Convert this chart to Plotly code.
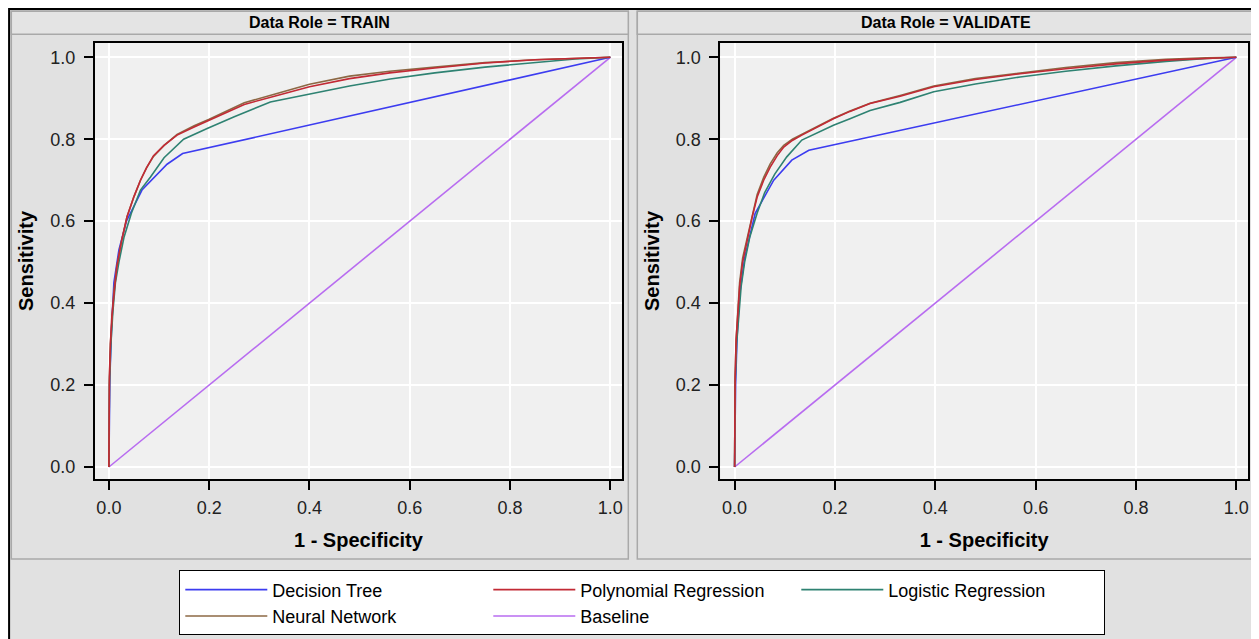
import plotly.graph_objects as go

# ---------------- data ----------------
panels = ["TRAIN", "VALIDATE"]
model_names = ["Decision Tree", "Polynomial Regression", "Logistic Regression", "Neural Network", "Baseline"]
x_ticks = [0.0, 0.2, 0.4, 0.6, 0.8, 1.0]
y_ticks = [0.0, 0.2, 0.4, 0.6, 0.8, 1.0]

# TRAIN
dt_train_x = [0, 0.002, 0.005, 0.01, 0.02, 0.035, 0.066, 0.116, 0.147, 1.0]
dt_train_y = [0, 0.22, 0.33, 0.45, 0.53, 0.60, 0.676, 0.739, 0.765, 1.0]

poly_train_x = [0, 0.001, 0.003, 0.006, 0.01, 0.016, 0.025, 0.036, 0.05, 0.063, 0.075, 0.089, 0.11, 0.136,
                0.17, 0.2, 0.24, 0.27, 0.33, 0.4, 0.48, 0.56, 0.65, 0.75, 0.85, 0.93, 1.0]
poly_train_y = [0, 0.22, 0.30, 0.37, 0.42, 0.49, 0.55, 0.61, 0.66, 0.70, 0.73, 0.76, 0.785, 0.81,
                0.83, 0.846, 0.868, 0.885, 0.905, 0.928, 0.948, 0.962, 0.974, 0.986, 0.994, 0.998, 1.0]

lr_train_x = [0, 0.001, 0.004, 0.008, 0.013, 0.02, 0.03, 0.045, 0.063, 0.083, 0.11, 0.149, 0.196, 0.25,
              0.322, 0.4, 0.48, 0.561, 0.65, 0.75, 0.85, 0.93, 1.0]
lr_train_y = [0, 0.2, 0.3, 0.38, 0.45, 0.5, 0.56, 0.62, 0.676, 0.708, 0.755, 0.80, 0.826, 0.855,
              0.891, 0.911, 0.93, 0.947, 0.962, 0.976, 0.988, 0.996, 1.0]

nn_train_x = [0, 0.001, 0.003, 0.006, 0.01, 0.016, 0.025, 0.036, 0.05, 0.063, 0.075, 0.089, 0.11, 0.136,
              0.17, 0.2, 0.24, 0.27, 0.33, 0.4, 0.48, 0.56, 0.65, 0.75, 0.85, 0.93, 1.0]
nn_train_y = [0, 0.21, 0.30, 0.37, 0.43, 0.49, 0.55, 0.61, 0.66, 0.70, 0.73, 0.758, 0.785, 0.812,
              0.833, 0.849, 0.871, 0.889, 0.91, 0.934, 0.954, 0.966, 0.976, 0.987, 0.994, 0.998, 1.0]

# VALIDATE
dt_val_x = [0, 0.002, 0.005, 0.01, 0.02, 0.041, 0.078, 0.114, 0.148, 1.0]
dt_val_y = [0, 0.2, 0.32, 0.42, 0.51, 0.619, 0.70, 0.749, 0.773, 1.0]

poly_val_x = [0, 0.001, 0.003, 0.006, 0.01, 0.016, 0.025, 0.035, 0.045, 0.058, 0.071, 0.085, 0.098, 0.115,
              0.134, 0.165, 0.197, 0.23, 0.27, 0.33, 0.397, 0.48, 0.569, 0.66, 0.76, 0.86, 0.94, 1.0]
poly_val_y = [0, 0.22, 0.31, 0.38, 0.44, 0.50, 0.554, 0.61, 0.659, 0.70, 0.732, 0.76, 0.781, 0.797,
              0.81, 0.83, 0.85, 0.868, 0.887, 0.905, 0.928, 0.946, 0.96, 0.972, 0.984, 0.993, 0.998, 1.0]

lr_val_x = [0, 0.001, 0.004, 0.008, 0.013, 0.02, 0.03, 0.045, 0.06, 0.08, 0.104, 0.134, 0.165, 0.197,
            0.23, 0.27, 0.33, 0.397, 0.48, 0.569, 0.66, 0.76, 0.86, 0.94, 1.0]
lr_val_y = [0, 0.2, 0.3, 0.37, 0.44, 0.5, 0.56, 0.62, 0.67, 0.715, 0.757, 0.798, 0.815, 0.834,
            0.85, 0.87, 0.89, 0.916, 0.935, 0.952, 0.966, 0.979, 0.99, 0.997, 1.0]

nn_val_x = [0, 0.001, 0.003, 0.006, 0.01, 0.016, 0.025, 0.035, 0.045, 0.058, 0.071, 0.085, 0.098, 0.115,
            0.134, 0.165, 0.197, 0.23, 0.27, 0.33, 0.397, 0.48, 0.569, 0.66, 0.76, 0.86, 0.94, 1.0]
nn_val_y = [0, 0.21, 0.31, 0.38, 0.45, 0.51, 0.56, 0.615, 0.665, 0.707, 0.74, 0.767, 0.785, 0.80,
            0.812, 0.831, 0.851, 0.869, 0.888, 0.907, 0.93, 0.948, 0.962, 0.975, 0.987, 0.995, 0.999, 1.0]

base_x = [0.0, 1.0]
base_y = [0.0, 1.0]

# ---------------- style ----------------
colors = {
    "Decision Tree": "#3c3cf0",
    "Polynomial Regression": "#c22a35",
    "Logistic Regression": "#2e8272",
    "Neural Network": "#8c6844",
    "Baseline": "#b86cf0",
}
FONT = "Liberation Sans, Arial, sans-serif"

PAGE_OFF = 8          # browser body margin: page pixel = figure pixel + 8
W, H = 1251, 631
L, R, T, B = 86.7, 11.3, 34.7, 160
GW, GH = W - L - R, H - T - B


def px2x(page_px):
    return (page_px - PAGE_OFF - L) / GW


def py2y(page_py):
    return (H - B - (page_py - PAGE_OFF)) / GH


series = {
    "TRAIN": {
        "Decision Tree": (dt_train_x, dt_train_y),
        "Polynomial Regression": (poly_train_x, poly_train_y),
        "Logistic Regression": (lr_train_x, lr_train_y),
        "Neural Network": (nn_train_x, nn_train_y),
        "Baseline": (base_x, base_y),
    },
    "VALIDATE": {
        "Decision Tree": (dt_val_x, dt_val_y),
        "Polynomial Regression": (poly_val_x, poly_val_y),
        "Logistic Regression": (lr_val_x, lr_val_y),
        "Neural Network": (nn_val_x, nn_val_y),
        "Baseline": (base_x, base_y),
    },
}

draw_order = ["Baseline", "Decision Tree", "Logistic Regression", "Neural Network", "Polynomial Regression"]

fig = go.Figure()
for pi, panel in enumerate(panels):
    xa = "x" if pi == 0 else "x2"
    ya = "y" if pi == 0 else "y2"
    for name in draw_order:
        xs, ys = series[panel][name]
        fig.add_trace(go.Scatter(
            x=xs, y=ys, mode="lines", name=name,
            line=dict(color=colors[name], width=1.6),
            xaxis=xa, yaxis=ya,
            legendgroup=name, showlegend=(pi == 0),
            legendrank=model_names.index(name) + 1,
            hoverinfo="skip",
        ))

axis_common = dict(
    tickvals=x_ticks, ticktext=[f"{v:.1f}" for v in x_ticks],
    ticks="outside", ticklen=9, tickwidth=1.5, tickcolor="black",
    showline=True, linecolor="black", linewidth=2, mirror=True,
    showgrid=True, gridcolor="white", gridwidth=2,
    zeroline=False,
    tickfont=dict(family=FONT, size=18, color="#222222"),
)

x_dom_left = [px2x(94.7), px2x(621.6)]
x_dom_right = [px2x(720), min(1.0, px2x(1247.7))]

title_font = dict(family=FONT, size=20, weight="bold", color="black")

fig.update_layout(
    width=W, height=H,
    margin=dict(l=L, r=R, t=T, b=B, autoexpand=False),
    paper_bgcolor="#e1e1e1",
    plot_bgcolor="#f0f0f0",
    font=dict(family=FONT, color="black"),
    xaxis=dict(axis_common, domain=x_dom_left, range=[-0.0277, 1.0231], anchor="y",
               ticklabelstandoff=2,
               title=dict(text="1 - Specificity", font=title_font, standoff=16)),
    yaxis=dict(axis_common, domain=[0, 1], range=[-0.0293, 1.0349], anchor="x",
               tickvals=y_ticks, ticktext=[f"{v:.1f}" for v in y_ticks], ticklabelstandoff=5,
               title=dict(text="Sensitivity", font=title_font, standoff=11)),
    xaxis2=dict(axis_common, domain=x_dom_right, range=[-0.0285, 1.0233], anchor="y2",
                ticklabelstandoff=2,
                title=dict(text="1 - Specificity", font=title_font, standoff=16)),
    yaxis2=dict(axis_common, domain=[0, 1], range=[-0.0293, 1.0349], anchor="x2",
                tickvals=y_ticks, ticktext=[f"{v:.1f}" for v in y_ticks], ticklabelstandoff=5,
                title=dict(text="Sensitivity", font=title_font, standoff=11)),
    legend=dict(
        orientation="h",
        x=px2x(179), xanchor="left",
        y=py2y(570.5), yanchor="top",
        bgcolor="white", bordercolor="black", borderwidth=1,
        font=dict(family=FONT, size=18, color="black"),
        itemwidth=82,
        entrywidth=211, entrywidthmode="pixels",
        traceorder="normal",
        itemclick=False, itemdoubleclick=False,
    ),
    showlegend=True,
)

shapes = []
# outer black frame
shapes.append(dict(type="rect", xref="paper", yref="paper", x0=px2x(8.8), x1=px2x(1257), y0=py2y(8.8), y1=py2y(H + 20),
                   fillcolor="rgba(0,0,0,0)", line=dict(color="black", width=2), layer="below"))
# panels: border + header strip
for (p0, p1) in [(11, 628), (637, 1254)]:
    shapes.append(dict(type="rect", xref="paper", yref="paper", x0=px2x(p0), x1=px2x(p1), y0=py2y(11), y1=py2y(559),
                       fillcolor="rgba(0,0,0,0)", line=dict(color="#a9a9a9", width=1.5), layer="below"))
    shapes.append(dict(type="rect", xref="paper", yref="paper", x0=px2x(p0), x1=px2x(p1), y0=py2y(11), y1=py2y(34),
                       fillcolor="#e4e4e4", line=dict(color="#a9a9a9", width=1.5), layer="below"))
fig.update_layout(shapes=shapes)

headers = [("Data Role = TRAIN", (11 + 628) / 2), ("Data Role = VALIDATE", (637 + 1254) / 2)]
for text, cx in headers:
    fig.add_annotation(x=px2x(cx), y=py2y(22.5), xref="paper", yref="paper", text=text, showarrow=False,
                       xanchor="center", yanchor="middle",
                       font=dict(family=FONT, size=16, weight="bold", color="black"))

fig.write_html("out.html")
